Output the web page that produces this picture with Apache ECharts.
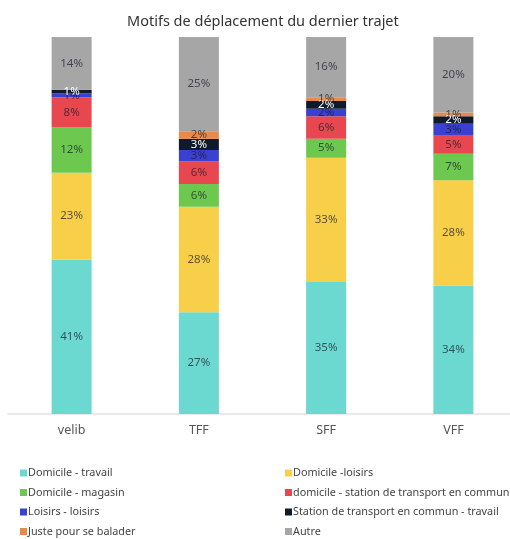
<!DOCTYPE html>
<html>
<head>
<meta charset="utf-8">
<script src="https://cdn.jsdelivr.net/npm/echarts@6/dist/echarts.min.js"></script>
<style>html,body{margin:0;padding:0;background:#fff}#c{width:510px;height:539px}</style>
</head>
<body>
<div id="c"></div>
<script>
const categories = ['velib', 'TFF', 'SFF', 'VFF'];
const seriesNames = ['Domicile - travail', 'Domicile -loisirs', 'Domicile - magasin', 'domicile - station de transport en commun', 'Loisirs - loisirs', 'Station de transport en commun - travail', 'Juste pour se balader', 'Autre'];
const domicileTravail = [41, 27, 35, 34];
const domicileLoisirs = [23, 28, 33, 28];
const domicileMagasin = [12, 6, 5, 7];
const domicileStation = [8, 6, 6, 5];
const loisirsLoisirs = [1, 3, 2, 3];
const stationTravail = [1, 3, 2, 2];
const justeBalader = [0, 2, 1, 1];
const autre = [14, 25, 16, 20];
const values = [domicileTravail, domicileLoisirs, domicileMagasin, domicileStation, loisirsLoisirs, stationTravail, justeBalader, autre];
const colors = ['#6bd9cf', '#f8cf48', '#6cc84f', '#e9474f', '#3a40cf', '#0f1b2b', '#e9894a', '#a6a6a6'];
const font = 'Noto Sans';

const chart = echarts.init(document.getElementById('c'), null, {renderer: 'canvas'});
const series = seriesNames.map((n, i) => ({
  name: n,
  type: 'bar',
  stack: 'total',
  barWidth: 40,
  data: values[i],
  itemStyle: {color: colors[i]},
  label: {
    show: true,
    position: 'inside',
    formatter: p => p.value > 0 ? p.value + '%' : '',
    fontFamily: font,
    fontSize: 11.5,
    color: i === 5 ? '#ffffff' : 'rgba(25,28,45,0.72)'
  },
  emphasis: {disabled: true}
}));

const legendText = {fontFamily: font, fontSize: 10.8, lineHeight: 16, color: '#444', padding: [0, 0, 0, -4]};
const legendBase = {
  orient: 'vertical', top: 465, height: 90, padding: 0,
  itemWidth: 7, itemHeight: 7, itemGap: 3.5, icon: 'rect',
  textStyle: legendText
};
chart.setOption({
  animation: false,
  color: colors,
  title: {
    text: 'Motifs de déplacement du dernier trajet',
    left: 122, top: 9,
    textStyle: {fontFamily: font, fontSize: 14.5, fontWeight: 'normal', color: '#333'}
  },
  grid: {left: 8, width: 509, top: 37, bottom: 125, outerBoundsMode: 'none'},
  xAxis: {
    type: 'category', data: categories,
    axisLine: {lineStyle: {color: '#e3e3e3', width: 1.5}},
    axisTick: {show: false},
    axisLabel: {fontFamily: font, fontSize: 12.5, color: '#555', margin: 10}
  },
  yAxis: {type: 'value', min: 0, max: 100, show: false, splitLine: {show: false}},
  legend: [
    Object.assign({}, legendBase, {
      data: [seriesNames[0], seriesNames[2], seriesNames[4], seriesNames[6]],
      left: 20
    }),
    Object.assign({}, legendBase, {
      data: [seriesNames[1], seriesNames[3], seriesNames[5], seriesNames[7]],
      left: 285
    })
  ],
  series: series
});
</script>
</body>
</html>
